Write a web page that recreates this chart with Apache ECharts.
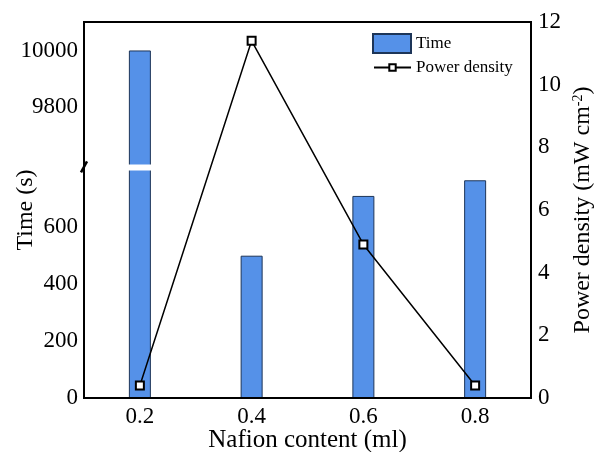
<!DOCTYPE html>
<html>
<head>
<meta charset="utf-8">
<script src="https://cdn.jsdelivr.net/npm/echarts@6.0.0/dist/echarts.min.js"></script>
<style>
  html, body { margin: 0; padding: 0; background: #fff; }
  #chart { width: 595px; height: 452px; }
</style>
</head>
<body>
<div id="chart"></div>
<script>
// data
var nafion = ['0.2', '0.4', '0.6', '0.8'];
var timeVals = [10000, 500, 710, 765];          // s, left axis (broken)
var powerVals = [0.4, 11.4, 4.9, 0.4];           // mW cm-2, right axis
var timeBreak = { start: 800, end: 9600 };      // left axis break
var hiddenTimeLabels = [800, 9600, 10100];

var serif = '"Liberation Serif", "DejaVu Serif", serif';
var chart = echarts.init(document.getElementById('chart'));

var legendText = { fontFamily: serif, fontSize: 17, color: '#000' };

var option = {
  backgroundColor: '#fff',
  animation: false,
  textStyle: { fontFamily: serif, color: '#000' },
  grid: {
    left: 84,
    right: 64,
    top: 22,
    bottom: 54,
    containLabel: false,
    outerBoundsMode: 'none',
    show: true,
    borderColor: '#000',
    borderWidth: 2,
    backgroundColor: 'transparent'
  },
  legend: [
    {
      left: 372,
      top: 33,
      padding: 0,
      itemWidth: 38,
      itemHeight: 19,
      textStyle: legendText,
      data: [{ name: 'Time', icon: 'rect' }]
    },
    {
      left: 373,
      top: 59,
      padding: 0,
      itemWidth: 37,
      itemHeight: 8,
      textStyle: legendText,
      data: ['Power density']
    }
  ],
  xAxis: {
    type: 'category',
    data: nafion,
    boundaryGap: true,
    z: 150,
    name: 'Nafion content (ml)',
    nameLocation: 'middle',
    nameGap: 30,
    nameMoveOverlap: false,
    nameTextStyle: { fontFamily: serif, fontSize: 25, color: '#000' },
    axisLine: { lineStyle: { color: '#000', width: 2 } },
    axisTick: { alignWithLabel: true, inside: true, length: 6, lineStyle: { color: '#000', width: 2 } },
    axisLabel: { fontFamily: serif, fontSize: 23, color: '#000', margin: 7 },
    splitLine: { show: false }
  },
  yAxis: [
    {
      type: 'value',
      min: 0,
      max: 10100,
      interval: 200,
      z: 150,
      breaks: [{ start: timeBreak.start, end: timeBreak.end, gap: '1.6%' }],
      breakArea: {
        show: true,
        itemStyle: { color: '#fff', borderColor: 'transparent', borderWidth: 0, opacity: 1 },
        zigzagAmplitude: 0,
        expandOnClick: false
      },
      name: 'Time (s)',
      nameLocation: 'middle',
      nameRotate: 90,
      nameGap: 46,
      nameMoveOverlap: false,
      nameTextStyle: { fontFamily: serif, fontSize: 24, color: '#000' },
      axisLine: { show: true, lineStyle: { color: '#000', width: 2 } },
      axisTick: { inside: true, length: 7, lineStyle: { color: '#000', width: 2 } },
      axisLabel: {
        fontFamily: serif, fontSize: 23, color: '#000', margin: 6,
        formatter: function (v) {
          return hiddenTimeLabels.indexOf(v) >= 0 ? '' : String(v);
        }
      },
      splitLine: { show: false }
    },
    {
      type: 'value',
      min: 0,
      max: 12,
      interval: 2,
      z: 150,
      position: 'right',
      name: 'Power density (mW cm{sup|-2})',
      nameLocation: 'middle',
      nameRotate: 90,
      nameGap: 40,
      nameMoveOverlap: false,
      nameTextStyle: {
        fontFamily: serif, fontSize: 24, color: '#000',
        rich: { sup: { fontFamily: serif, fontSize: 14, color: '#000', verticalAlign: 'top', padding: [0, 0, 10, 0] } }
      },
      axisLine: { show: true, lineStyle: { color: '#000', width: 2 } },
      axisTick: { inside: true, length: 6, lineStyle: { color: '#000', width: 2 } },
      axisLabel: { fontFamily: serif, fontSize: 23, color: '#000', margin: 7 },
      splitLine: { show: false }
    }
  ],
  series: [
    {
      name: 'Time',
      type: 'bar',
      yAxisIndex: 0,
      barWidth: 22,
      data: timeVals,
      itemStyle: { color: '#5591e8', borderColor: '#1d3558', borderWidth: 1 }
    },
    {
      name: 'Power density',
      type: 'line',
      yAxisIndex: 1,
      z: 200,
      data: powerVals,
      symbol: 'rect',
      symbolSize: 8,
      lineStyle: { color: '#000', width: 1.5 },
      itemStyle: { color: '#fff', borderColor: '#000', borderWidth: 2 }
    }
  ]
};

chart.setOption(option);

// keep both axis lines whole across the break and put the "/" mark on the left one
var yLow = chart.convertToPixel({ yAxisIndex: 0 }, timeBreak.start);
var yHigh = chart.convertToPixel({ yAxisIndex: 0 }, timeBreak.end);
var left = 84, right = 595 - 64;
if (yLow != null && yHigh != null) {
  chart.setOption({
    graphic: [
      { type: 'line', z: 300, shape: { x1: left, y1: yHigh - 4, x2: left, y2: yLow + 4 }, style: { stroke: '#000', lineWidth: 2 } },
      { type: 'line', z: 300, shape: { x1: right, y1: yHigh - 4, x2: right, y2: yLow + 4 }, style: { stroke: '#000', lineWidth: 2 } },
      { type: 'line', z: 301, shape: { x1: left - 3, y1: yLow + 2, x2: left + 3, y2: yLow - 9 }, style: { stroke: '#000', lineWidth: 2.5 } }
    ]
  });
}
</script>
</body>
</html>
